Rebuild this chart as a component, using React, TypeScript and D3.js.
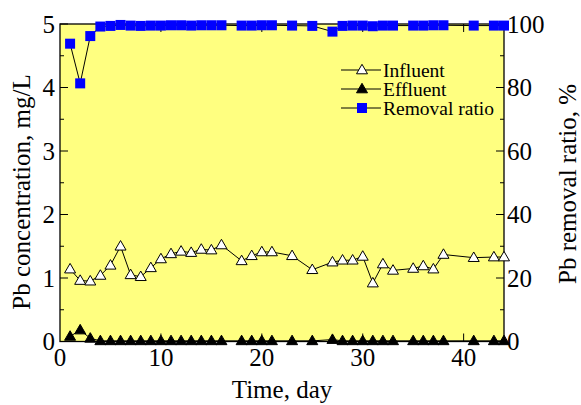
import React from "react";
import * as d3 from "d3";

const days = [1,2,3,4,5,6,7,8,9,10,11,12,13,14,15,16,18,19,20,21,23,25,27,28,29,30,31,32,33,35,36,37,38,41,43,44];
const influent = [1.14,0.96,0.95,1.04,1.2,1.5,1.05,1.02,1.16,1.3,1.38,1.42,1.4,1.45,1.44,1.52,1.27,1.35,1.41,1.41,1.35,1.13,1.25,1.28,1.28,1.34,0.92,1.22,1.12,1.15,1.19,1.14,1.37,1.32,1.33,1.33];
const effluent = [0.08,0.18,0.05,0.01,0.01,0.01,0.01,0.01,0.01,0.01,0.01,0.01,0.01,0.01,0.01,0.01,0.01,0.01,0.01,0.01,0.01,0.01,0.03,0.01,0.01,0.01,0.01,0.01,0.01,0.01,0.01,0.01,0.01,0.01,0.01,0.01];
const removal = [93.8,81.3,96.2,99.2,99.4,99.7,99.5,99.4,99.5,99.5,99.6,99.6,99.5,99.6,99.6,99.6,99.5,99.5,99.6,99.6,99.5,99.4,97.6,99.4,99.5,99.5,99.3,99.5,99.5,99.5,99.5,99.6,99.6,99.5,99.5,99.5];
const xTicks = [0,10,20,30,40];
const yTicks = [0,1,2,3,4,5];
const y2Ticks = [0,20,40,60,80,100];
const legendItems = ["Influent", "Effluent", "Removal ratio"];

const L = 60, R = 504, T = 24, B = 341.5;
const font = "'Liberation Serif', 'Times New Roman', serif";

function tri(cx: number, cy: number) {
  const w = 5.5, h = 9.5;
  return `M${cx},${cy - h * 0.6}L${cx + w},${cy + h * 0.4}L${cx - w},${cy + h * 0.4}Z`;
}

export default function App() {
  const x = d3.scaleLinear().domain([0, 44]).range([L, R]);
  const y = d3.scaleLinear().domain([0, 5]).range([B, T]);
  const y2 = d3.scaleLinear().domain([0, 100]).range([B, T]);
  const lineL = d3.line<[number, number]>().x(d => x(d[0])).y(d => y(d[1]));
  const lineR = d3.line<[number, number]>().x(d => x(d[0])).y(d => y2(d[1]));
  const inf = days.map((d, i) => [d, influent[i]] as [number, number]);
  const eff = days.map((d, i) => [d, effluent[i]] as [number, number]);
  const rem = days.map((d, i) => [d, removal[i]] as [number, number]);
  const minorY = d3.range(0.5, 5, 1);
  const minorY2 = d3.range(10, 100, 20);
  const legY = [70, 89, 108];
  return (
    <svg width={581} height={405} style={{ position: "absolute", left: 0, top: 0 }} fontFamily={font}>
      <rect x={0} y={0} width={581} height={405} fill="#fff" />
      <rect x={L} y={T} width={R - L} height={B - T} fill="#ffff80" />
      {/* ticks */}
      {xTicks.slice(1).map(t => (
        <g key={"xt" + t}>
          <line x1={x(t)} x2={x(t)} y1={B} y2={B - 8} stroke="#000" />
          <line x1={x(t)} x2={x(t)} y1={T} y2={T + 8} stroke="#000" />
        </g>
      ))}
      {yTicks.map(t => (
        <line key={"yt" + t} x1={L} x2={L + 8} y1={y(t)} y2={y(t)} stroke="#000" />
      ))}
      {minorY.map(t => (
        <line key={"ym" + t} x1={L} x2={L + 4} y1={y(t)} y2={y(t)} stroke="#000" />
      ))}
      {y2Ticks.map(t => (
        <line key={"y2t" + t} x1={R} x2={R - 8} y1={y2(t)} y2={y2(t)} stroke="#000" />
      ))}
      {minorY2.map(t => (
        <line key={"y2m" + t} x1={R} x2={R - 4} y1={y2(t)} y2={y2(t)} stroke="#000" />
      ))}
      <rect x={L} y={T} width={R - L} height={B - T} fill="none" stroke="#000" strokeWidth={1.3} />
      {/* series */}
      <path d={lineL(inf) || ""} fill="none" stroke="#000" strokeWidth={1} />
      <path d={lineL(eff) || ""} fill="none" stroke="#000" strokeWidth={1} />
      <path d={lineR(rem) || ""} fill="none" stroke="#000" strokeWidth={1} />
      {inf.map((d, i) => (
        <path key={"i" + i} d={tri(x(d[0]), y(d[1]))} fill="#fff" stroke="#000" strokeWidth={1} />
      ))}
      {eff.map((d, i) => (
        <path key={"e" + i} d={tri(x(d[0]), y(d[1]))} fill="#000" stroke="#000" strokeWidth={1} />
      ))}
      {rem.map((d, i) => (
        <rect key={"r" + i} x={x(d[0]) - 5} y={y2(d[1]) - 5} width={10} height={10} fill="#0000ff" />
      ))}
      {/* tick labels */}
      {xTicks.map(t => (
        <text key={"xl" + t} x={x(t)} y={366} fontSize={25} textAnchor="middle">{t}</text>
      ))}
      {yTicks.map(t => (
        <text key={"yl" + t} x={55} y={y(t) + 8.5} fontSize={25} textAnchor="end">{t}</text>
      ))}
      {y2Ticks.map(t => (
        <text key={"y2l" + t} x={507} y={y2(t) + 8.5} fontSize={25} textAnchor="start">{t}</text>
      ))}
      {/* axis titles */}
      <text x={282} y={398} fontSize={25} textAnchor="middle">Time, day</text>
      <text transform={`translate(30,192) rotate(-90)`} fontSize={25} textAnchor="middle">Pb concentration, mg/L</text>
      <text transform={`translate(576,184) rotate(-90)`} fontSize={25} textAnchor="middle">Pb removal ratio, %</text>
      {/* legend */}
      {legendItems.map((name, i) => (
        <g key={name}>
          <line x1={341} x2={381} y1={legY[i]} y2={legY[i]} stroke="#000" />
          {i === 0 && <path d={tri(362, legY[i])} fill="#fff" stroke="#000" />}
          {i === 1 && <path d={tri(362, legY[i])} fill="#000" stroke="#000" />}
          {i === 2 && <rect x={357} y={legY[i] - 5} width={10} height={10} fill="#0000ff" />}
          <text x={383} y={legY[i] + 6.5} fontSize={19.5}>{name}</text>
        </g>
      ))}
    </svg>
  );
}
